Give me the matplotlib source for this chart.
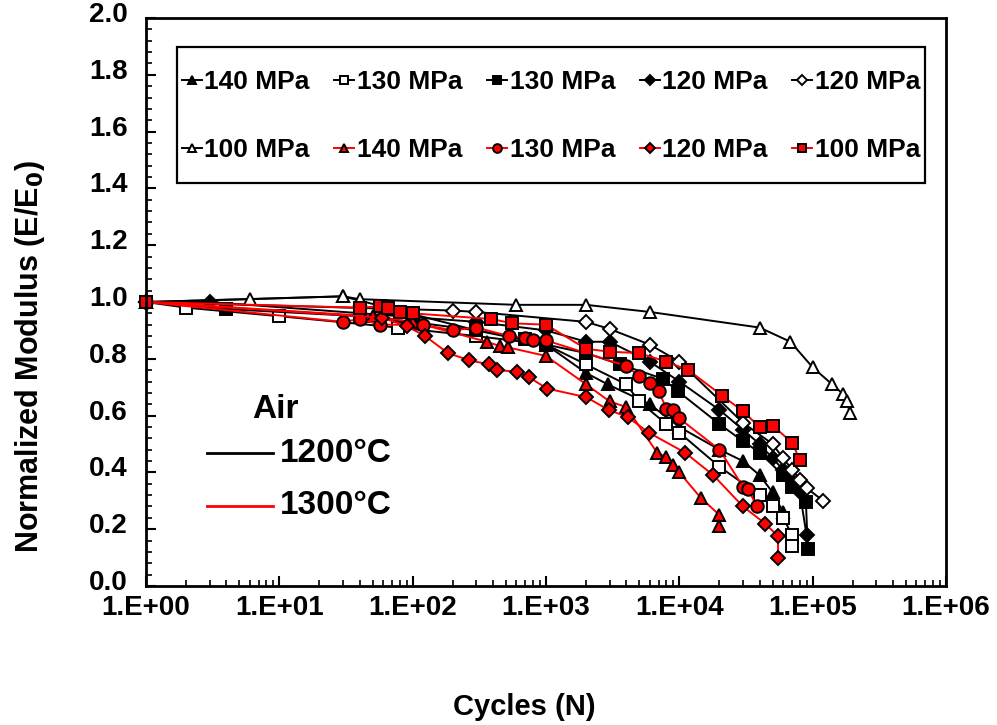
import matplotlib
matplotlib.use("Agg")
import matplotlib.pyplot as plt
import matplotlib.transforms as mtransforms
from matplotlib.patches import Rectangle
from matplotlib.ticker import FixedLocator, NullFormatter, MultipleLocator, FormatStrFormatter

plt.rcParams['font.family'] = ['Liberation Sans', 'DejaVu Sans']
plt.rcParams['font.weight'] = 'bold'
plt.rcParams['mathtext.default'] = 'bf'

# ---- data (cycles, normalized modulus) ----
# 1200C
t1200_140_x = [1, 30, 300, 1000, 2000, 2900, 6000, 10000, 20000, 30000, 40000, 50000, 60000]
t1200_140_y = [1.0, 1.02, 0.90, 0.85, 0.75, 0.71, 0.64, 0.56, 0.48, 0.44, 0.39, 0.33, 0.26]
t1200_130o_x = [1, 2, 10, 77, 300, 1000, 2000, 4000, 5000, 8000, 10000, 20000, 40000, 50000, 60000, 70000, 70000]
t1200_130o_y = [1.0, 0.98, 0.95, 0.91, 0.88, 0.85, 0.78, 0.71, 0.65, 0.57, 0.54, 0.42, 0.32, 0.28, 0.24, 0.18, 0.14]
t1200_130f_x = [1, 4, 40, 100, 300, 700, 1000, 2000, 3600, 7500, 9800, 20000, 30000, 40000, 60000, 70000, 89000, 92000]
t1200_130f_y = [1.0, 0.975, 0.95, 0.93, 0.90, 0.87, 0.85, 0.82, 0.78, 0.73, 0.685, 0.57, 0.51, 0.47, 0.39, 0.35, 0.295, 0.13]
t1200_120f_x = [1, 3, 300, 1000, 2000, 3000, 6000, 10000, 20000, 30000, 40000, 50000, 60000, 70000, 80000, 90000]
t1200_120f_y = [1.0, 1.0, 0.93, 0.90, 0.86, 0.86, 0.79, 0.72, 0.62, 0.55, 0.50, 0.45, 0.41, 0.37, 0.33, 0.18]
t1200_120o_x = [1, 200, 300, 2000, 3000, 6000, 10000, 30000, 50000, 60000, 70000, 80000, 90000, 120000]
t1200_120o_y = [1.0, 0.97, 0.965, 0.93, 0.905, 0.85, 0.79, 0.575, 0.50, 0.45, 0.41, 0.375, 0.345, 0.30]
t1200_100_x = [1, 6, 30, 40, 600, 2000, 6000, 40000, 68000, 100000, 140000, 170000, 180000, 190000]
t1200_100_y = [1.0, 1.01, 1.02, 1.01, 0.99, 0.99, 0.965, 0.91, 0.86, 0.77, 0.71, 0.675, 0.65, 0.61]
# 1300C
t1300_140_x = [1, 50, 100, 360, 450, 520, 1000, 2000, 3000, 4000, 6800, 7900, 9000, 10000, 14500, 20000, 20000]
t1300_140_y = [1.0, 0.95, 0.93, 0.86, 0.845, 0.84, 0.81, 0.71, 0.65, 0.63, 0.47, 0.455, 0.425, 0.40, 0.31, 0.25, 0.21]
t1300_130_x = [1, 30, 40, 57, 120, 200, 300, 530, 690, 800, 1000, 4000, 5000, 6000, 7000, 8000, 9000,
               10000, 20000, 30000, 33000, 38000]
t1300_130_y = [1.0, 0.93, 0.94, 0.92, 0.92, 0.90, 0.91, 0.88, 0.875, 0.865, 0.865, 0.775, 0.74, 0.715, 0.685,
               0.625, 0.62, 0.59, 0.48, 0.35, 0.34, 0.28]
t1300_120_x = [1, 59, 90, 124, 184, 265, 375, 430, 605, 745, 1020, 2000, 2950, 4100, 5900, 11000, 18000,
               30000, 44000, 55000, 55000]
t1300_120_y = [1.0, 0.945, 0.915, 0.88, 0.82, 0.795, 0.78, 0.76, 0.755, 0.735, 0.695, 0.665, 0.62, 0.595,
               0.54, 0.47, 0.39, 0.28, 0.22, 0.175, 0.10]
t1300_100_x = [1, 40, 57, 65, 80, 100, 390, 560, 1000, 2000, 3000, 5000, 8000, 11700, 21000, 30000, 40000,
               50000, 70000, 80000]
t1300_100_y = [1.0, 0.98, 0.985, 0.98, 0.965, 0.96, 0.94, 0.925, 0.92, 0.835, 0.825, 0.82, 0.79, 0.76, 0.67,
               0.615, 0.56, 0.565, 0.505, 0.445]

labels = ['140 MPa', '130 MPa', '130 MPa', '120 MPa', '120 MPa', '100 MPa',
          '140 MPa', '130 MPa', '120 MPa', '100 MPa']

x_ticklabels = ['1.E+00', '1.E+01', '1.E+02', '1.E+03', '1.E+04', '1.E+05', '1.E+06']

W, H = 997, 725
fig = plt.figure(figsize=(W / 100, H / 100), dpi=100)
ax = fig.add_axes([146 / W, 1 - 586 / H, (946 - 146) / W, (586 - 18) / H])

series = [
    (t1200_140_x, t1200_140_y, 'k', '^', 'k'),
    (t1200_130o_x, t1200_130o_y, 'k', 's', 'white'),
    (t1200_130f_x, t1200_130f_y, 'k', 's', 'k'),
    (t1200_120f_x, t1200_120f_y, 'k', 'D', 'k'),
    (t1200_120o_x, t1200_120o_y, 'k', 'D', 'white'),
    (t1200_100_x, t1200_100_y, 'k', '^', 'white'),
    (t1300_140_x, t1300_140_y, 'red', '^', 'red'),
    (t1300_130_x, t1300_130_y, 'red', 'o', 'red'),
    (t1300_120_x, t1300_120_y, 'red', 'D', 'red'),
    (t1300_100_x, t1300_100_y, 'red', 's', 'red'),
]
handles = []
for (xs, ys, lc, mk, fc), lab in zip(series, labels):
    ms = 9 if mk in ('^', 's', 'o') else 7
    h, = ax.plot(xs, ys, color=lc, lw=1.4, marker=mk, markersize=ms,
                 markerfacecolor=fc, markeredgecolor='k', markeredgewidth=1.4,
                 label=lab, clip_on=False)
    handles.append(h)

ax.set_xscale('log')
ax.set_xlim(1, 1e6)
ax.set_ylim(0, 2.0)
ax.xaxis.set_major_locator(FixedLocator([10.0 ** k for k in range(7)]))
ax.set_xticklabels(x_ticklabels)
ax.xaxis.set_minor_locator(FixedLocator([m * 10.0 ** k for k in range(6) for m in range(2, 10)]))
ax.xaxis.set_minor_formatter(NullFormatter())
ax.yaxis.set_major_locator(MultipleLocator(0.2))
ax.yaxis.set_minor_locator(MultipleLocator(0.04))
ax.yaxis.set_major_formatter(FormatStrFormatter('%.1f'))
ax.tick_params(which='major', direction='in', length=7, width=1.5, labelsize=20)
ax.tick_params(axis='x', which='major', pad=6.5)
ax.tick_params(axis='y', which='major', pad=13)
ax.tick_params(which='minor', direction='in', length=4, width=1.2)
shift_up = mtransforms.ScaledTranslation(0, 6 / 100, fig.dpi_scale_trans)
for lab in ax.get_yticklabels():
    lab.set_fontweight('bold')
    lab.set_transform(lab.get_transform() + shift_up)
for lab in ax.get_xticklabels():
    lab.set_fontweight('bold')
for sp in ax.spines.values():
    sp.set_linewidth(2.0)

fig.text(30 / W, 1 - 357 / H, 'Normalized Modulus (E/E$_\\mathbf{0}$)', rotation=90,
         ha='center', va='center', fontsize=22, fontweight='bold')
fig.text(524 / W, 1 - 707 / H, 'Cycles (N)', ha='center', va='center', fontsize=21, fontweight='bold')

# legend frame (figure pixels 177..925 x 47..183)
fig.patches.append(Rectangle((177 / W, 1 - 183 / H), (925 - 177) / W, (183 - 47) / H,
                             transform=fig.transFigure, fill=True, facecolor='white',
                             edgecolor='k', linewidth=1.6, zorder=4))

# legend entries: row-major order for 2 rows x 5 cols
order = [0, 5, 1, 6, 2, 7, 3, 8, 4, 9]
leg = fig.legend([handles[i] for i in order], [labels[i] for i in order], ncol=5,
                 loc='upper left',
                 bbox_to_anchor=(182 / W, 1 - 166 / H, (920 - 182) / W, (166 - 70) / H),
                 mode='expand', borderaxespad=0, frameon=False,
                 prop={'weight': 'bold', 'size': 19}, handlelength=0.75, handletextpad=0.1,
                 columnspacing=0.3, labelspacing=1.67, borderpad=0, markerscale=0.7)
leg.set_zorder(5)

# annotation
ax.text(0.1325, 0.311, 'Air', transform=ax.transAxes, fontsize=24, fontweight='bold', va='center')
ax.plot([0.076, 0.159], [0.234, 0.234], color='k', lw=2, transform=ax.transAxes)
ax.plot([0.076, 0.159], [0.141, 0.141], color='red', lw=2, transform=ax.transAxes)
ax.text(0.1675, 0.234, '1200°C', transform=ax.transAxes, fontsize=24, fontweight='bold', va='center')
ax.text(0.1675, 0.141, '1300°C', transform=ax.transAxes, fontsize=24, fontweight='bold', va='center')

fig.savefig('out.png', dpi=100)
